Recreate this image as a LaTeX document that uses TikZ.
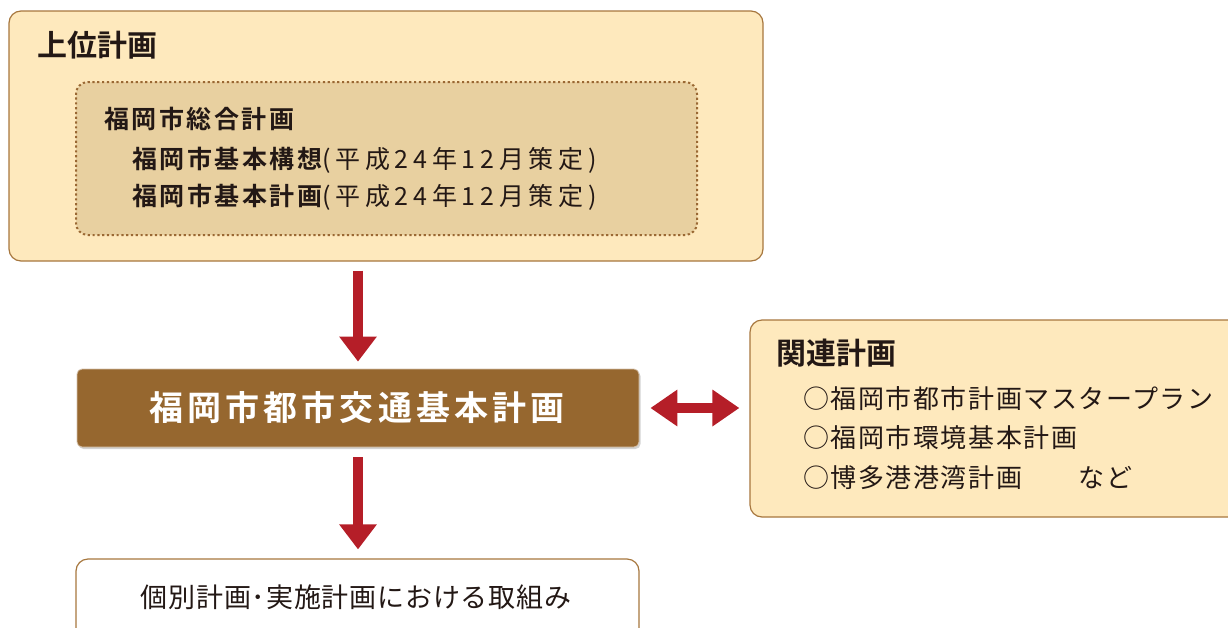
\documentclass[tikz,border=0pt]{standalone}
\usepackage{fontspec}
\newfontfamily\jp{Noto Sans CJK JP}[BoldFont={Noto Sans CJK JP Bold}]
\usetikzlibrary{arrows.meta,shadows}
\definecolor{paleyellow}{HTML}{FEE9BD}
\definecolor{panelborder}{HTML}{A7773E}
\definecolor{innertan}{HTML}{E8D0A0}
\definecolor{dotbrown}{HTML}{9A6833}
\definecolor{mainbrown}{HTML}{96672F}
\definecolor{arrowred}{HTML}{B51E28}
\definecolor{ink}{HTML}{231815}
\begin{document}
\begin{tikzpicture}[x=1pt,y=-1pt,
  panel/.style={draw=panelborder, line width=1.2pt, fill=paleyellow, rounded corners=12pt, inner sep=0pt},
  innerpanel/.style={draw=dotbrown, line width=2pt, dash pattern=on 2.2pt off 2.6pt, fill=innertan, rounded corners=12pt, inner sep=0pt},
  mainpanel/.style={draw=mainbrown!40!white, line width=0.8pt, fill=mainbrown, rounded corners=5pt, inner sep=0pt,
    drop shadow={opacity=0.35, shadow xshift=1.5pt, shadow yshift=-2pt}},
  whitepanel/.style={draw=panelborder, line width=1.2pt, fill=white, rounded corners=12pt, inner sep=0pt},
  txt/.style={anchor=west, inner sep=0pt, text=ink, font=\jp},
  bigarrow/.style={draw=arrowred, line width=10pt, -{Triangle[width=36pt,length=25pt]}},
  duoarrow/.style={draw=arrowred, line width=10pt, {Triangle[width=35pt,length=27pt]}-{Triangle[width=35pt,length=27pt]}}
]
\useasboundingbox (0,0) rectangle (1228,627);
\clip (0,0) rectangle (1228,627);
% upper plans
\node[panel, minimum width=754pt, minimum height=250pt] (top) at (386,136) {};
\node[innerpanel, minimum width=621pt, minimum height=153pt] (inner) at (386.5,158.5) {};
\node[txt, font=\jp\bfseries\fontsize{30}{32}\selectfont] (tophead) at (37,45) {上位計画};
\node[txt, font=\jp\bfseries\fontsize{25}{28}\selectfont\addfontfeature{LetterSpace=10}] (sogo) at (104,119) {福岡市総合計画};
\node[txt, font=\jp\fontsize{25}{28}\selectfont\addfontfeature{LetterSpace=10}] (kihonkoso) at (132,160) {{\bfseries 福岡市基本構想}{\addfontfeature{LetterSpace=19}(平成24年12月策定)}};
\node[txt, font=\jp\fontsize{25}{28}\selectfont\addfontfeature{LetterSpace=10}] (kihonkeikaku) at (132,197) {{\bfseries 福岡市基本計画}{\addfontfeature{LetterSpace=19}(平成24年12月策定)}};
% main
\node[mainpanel, minimum width=562pt, minimum height=78pt] (main) at (358,408) {};
\node[inner sep=0pt, text=white, font=\jp\bfseries\fontsize{34}{36}\selectfont\addfontfeature{LetterSpace=12}] (maintext) at (357,408) {福岡市都市交通基本計画};
% related plans
\node[panel, minimum width=490pt, minimum height=197pt] (right) at (995,418.5) {};
\node[txt, font=\jp\bfseries\fontsize{30}{32}\selectfont] (relhead) at (776,353) {関連計画};
\node[txt, font=\jp\fontsize{26}{30}\selectfont\addfontfeature{LetterSpace=6}] (rel1) at (803,399) {○福岡市都市計画マスタープラン};
\node[txt, font=\jp\fontsize{26}{30}\selectfont\addfontfeature{LetterSpace=6}] (rel2) at (803,438) {○福岡市環境基本計画};
\node[txt, font=\jp\fontsize{26}{30}\selectfont\addfontfeature{LetterSpace=6}] (rel3) at (803,478) {○博多港港湾計画　　など};
% bottom
\node[whitepanel, minimum width=563pt, minimum height=84pt] (bottom) at (357.5,601) {};
\node[inner sep=0pt, text=ink, font=\jp\fontsize{27}{30}\selectfont\addfontfeature{LetterSpace=3}] (bottomtext) at (356,597) {個別計画･実施計画における取組み};
% arrows
\draw[bigarrow] ([yshift=-9pt]main.north |- top.south) -- ([yshift=7pt]main.north);
\draw[bigarrow] ([yshift=-10pt]main.south) -- ([yshift=9pt]main.south |- bottom.north);
\draw[duoarrow] ([xshift=11pt]main.east) -- ([xshift=-10pt]main.east -| right.west);
\end{tikzpicture}
\end{document}
